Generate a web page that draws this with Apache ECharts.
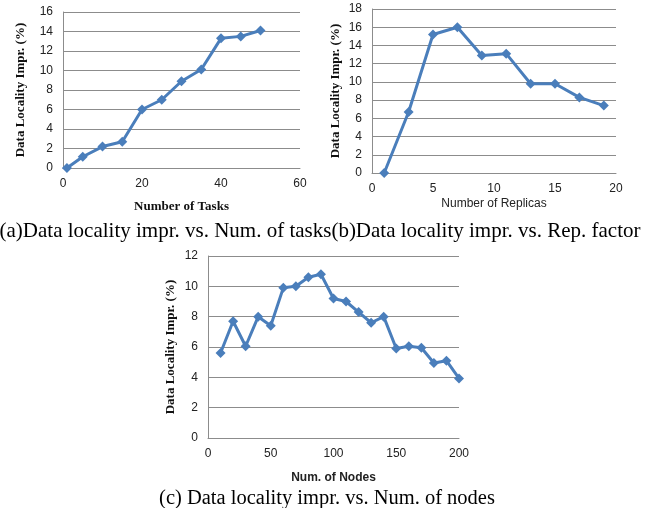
<!DOCTYPE html>
<html>
<head>
<meta charset="utf-8">
<script src="https://cdn.jsdelivr.net/npm/echarts@6/dist/echarts.min.js"></script>
<style>
  html, body { margin: 0; padding: 0; background: #fff; }
  #main { width: 650px; height: 508px; }
</style>
</head>
<body>
<div id="main"></div>
<script>
// (a) number of tasks
const tasksX = [1, 5, 10, 15, 20, 25, 30, 35, 40, 45, 50];
const tasksY = [0, 1.15, 2.2, 2.7, 6.0, 7.0, 8.9, 10.1, 13.3, 13.5, 14.1];
// (b) number of replicas
const replicasX = [1, 3, 5, 7, 9, 11, 13, 15, 17, 19];
const replicasY = [0, 6.7, 15.2, 16.0, 12.9, 13.1, 9.8, 9.8, 8.3, 7.4];
// (c) number of nodes
const nodesX = [10, 20, 30, 40, 50, 60, 70, 80, 90, 100, 110, 120, 130, 140, 150, 160, 170, 180, 190, 200];
const nodesY = [5.6, 7.7, 6.05, 8.0, 7.4, 9.9, 10.0, 10.6, 10.8, 9.2, 9.0, 8.3, 7.6, 8.0, 5.9, 6.05, 5.95, 4.95, 5.1, 3.93];

const yTitle = 'Data Locality Impr. (%)';
const blue = '#4a7ebb';
const gridGray = '#8c8c8c';
const tickFont = { fontFamily: 'Liberation Sans', fontSize: 12, color: '#222' };
const serifBold = { fontFamily: 'Liberation Serif', fontWeight: 'bold', fontSize: 13, color: '#111' };

let chart = echarts.init(document.getElementById('main'));

function xAxis(gridIndex, max, interval, name, nameStyle, gap) {
    return {
        type: 'value', gridIndex: gridIndex, min: 0, max: max, interval: interval,
        name: name, nameLocation: 'middle', nameGap: gap, nameTextStyle: nameStyle,
        axisLine: { lineStyle: { color: gridGray } },
        axisTick: { show: false },
        splitLine: { show: false },
        axisLabel: Object.assign({ margin: 10 }, tickFont)
    };
}
function yAxis(gridIndex, max, interval, gap) {
    return {
        type: 'value', gridIndex: gridIndex, min: 0, max: max, interval: interval,
        name: yTitle, nameLocation: 'middle', nameGap: gap, nameTextStyle: serifBold,
        axisLine: { show: true, lineStyle: { color: gridGray } },
        axisTick: { show: false },
        splitLine: { lineStyle: { color: gridGray } },
        axisLabel: Object.assign({ margin: 10 }, tickFont)
    };
}
function lineSeries(i, xs, ys) {
    return {
        type: 'line', xAxisIndex: i, yAxisIndex: i,
        data: xs.map((x, k) => [x, ys[k]]),
        symbol: 'diamond', symbolSize: 10,
        lineStyle: { color: blue, width: 3 },
        itemStyle: { color: blue },
        animation: false
    };
}

const option = {
    backgroundColor: '#fff',
    title: [
        {
            text: '(a)Data locality impr. vs. Num. of tasks(b)Data locality impr. vs. Rep. factor',
            left: 315, top: 216, textAlign: 'center',
            textStyle: { fontFamily: 'Liberation Serif', fontWeight: 'normal', fontSize: 21, color: '#000' }
        },
        {
            text: '(c) Data locality impr. vs. Num. of nodes',
            left: 322, top: 483, textAlign: 'center',
            textStyle: { fontFamily: 'Liberation Serif', fontWeight: 'normal', fontSize: 20.5, color: '#000' }
        }
    ],
    grid: [
        { left: 63, top: 12, width: 237, height: 156 },
        { left: 372, top: 9, width: 244, height: 164 },
        { left: 208, top: 256, width: 251, height: 182 }
    ],
    xAxis: [
        xAxis(0, 60, 20, 'Number of Tasks', serifBold, 32),
        xAxis(1, 20, 5, 'Number of Replicas', { fontFamily: 'Liberation Sans', fontSize: 12, color: '#222' }, 25),
        xAxis(2, 200, 50, 'Num. of Nodes', { fontFamily: 'Liberation Sans', fontWeight: 'bold', fontSize: 12, color: '#222' }, 34)
    ],
    yAxis: [
        yAxis(0, 16, 2, 36),
        yAxis(1, 18, 2, 30),
        yAxis(2, 12, 2, 31)
    ],
    series: [
        lineSeries(0, tasksX, tasksY),
        lineSeries(1, replicasX, replicasY),
        lineSeries(2, nodesX, nodesY)
    ]
};

option && chart.setOption(option);
window.addEventListener('resize', chart.resize);
</script>
</body>
</html>
